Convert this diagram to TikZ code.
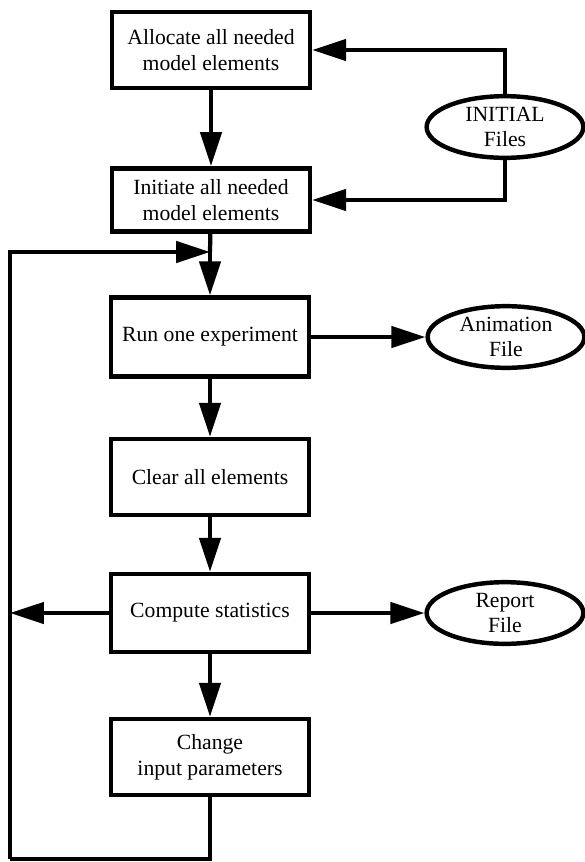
\documentclass[tikz,border=0pt]{standalone}
\usepackage{fontspec}
\setmainfont{Liberation Serif}
\usetikzlibrary{arrows.meta,shapes.geometric}
\tikzset{
  process/.style={rectangle, line width=3.8pt, draw=black, fill=white, minimum width=5.94cm, minimum height=2.28cm, align=center, font=\fontsize{18.5}{22}\selectfont},
  file_vertex/.style={ellipse, line width=3.8pt, draw=black, fill=white, minimum width=4.7cm, minimum height=1.85cm, inner sep=0pt, align=center, font=\fontsize{18.5}{22}\selectfont},
  edge/.style={line width=3.6pt},
  arrow_edge/.style={line width=3.6pt, -{Triangle[length=29pt, width=18pt]}}
}
\begin{document}
\begin{tikzpicture}[x=0.03cm, y=-0.03cm]
        \useasboundingbox (0,0) rectangle (585,862);
        \node[process] (1) at (211, 50) {Allocate all needed\\model elements};
        \node[process, minimum height=1.9cm] (2) at (211, 200) {Initiate all needed\\model elements};
        \node[process, minimum height=2.37cm] (3) at (210, 337) {Run one experiment};
        \node[process] (4) at (210, 477) {Clear all elements};
        \node[process, minimum height=2.34cm] (5) at (210, 613) {Compute statistics};
        \node[process] (6) at (210, 757) {Change\\input parameters};
        \node[file_vertex] (7) at (505, 127) {INITIAL\\Files};
        \node[file_vertex] (8) at (506, 337) {Animation\\File};
        \node[file_vertex] (9) at (505, 613) {Report\\File};
        \coordinate (10) at (210, 252);
        \coordinate (11) at (10, 859);
        \coordinate (12) at (10, 613);
        \draw[arrow_edge] (1) -- (2);
        \draw[edge] (2) -- (10);
        \draw[arrow_edge] (10) -- (3);
        \draw[arrow_edge] (3) -- (4);
        \draw[arrow_edge] (4) -- (5);
        \draw[arrow_edge] (5) -- (6);
        \draw[arrow_edge] (7.north) |- (1.east);
        \draw[arrow_edge] (7.south) |- (2.east);
        \draw[arrow_edge] (3) -- (8);
        \draw[arrow_edge] (5) -- (9);
        \draw[arrow_edge] (5) -- (12);
        \draw[edge] (6.south) |- (11);
        \draw[arrow_edge] (11) |- (10);
\end{tikzpicture}
\end{document}
